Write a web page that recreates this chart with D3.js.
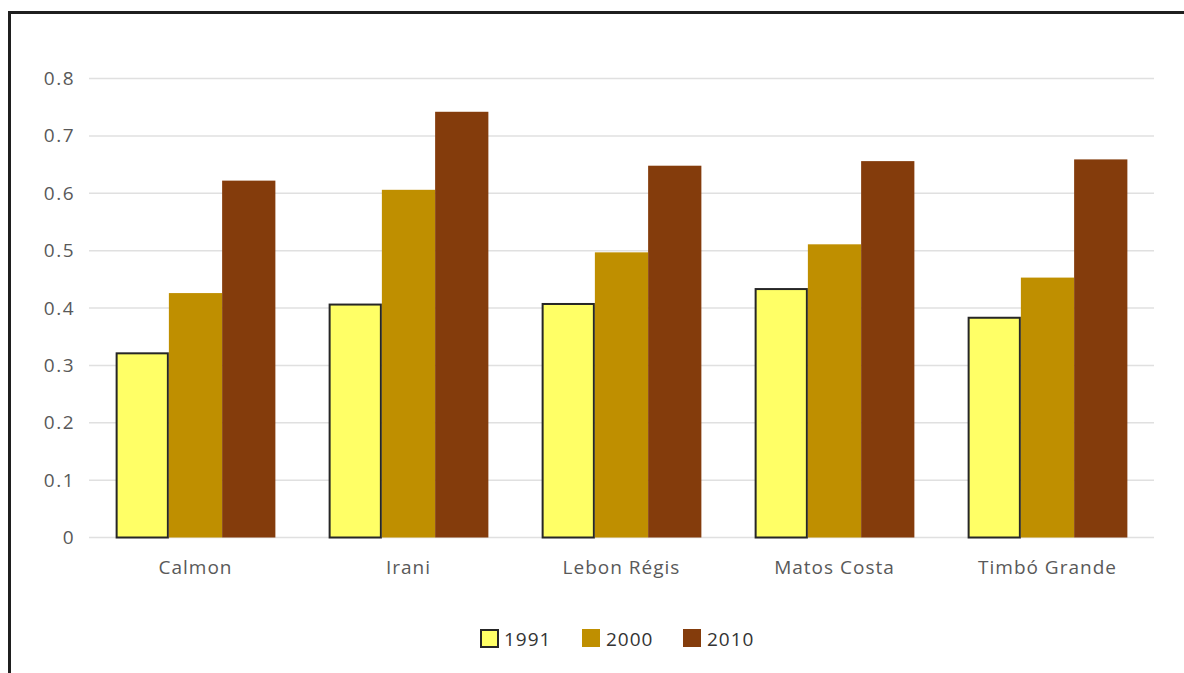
<!DOCTYPE html>
<html>
<head>
<meta charset="utf-8">
<script src="https://cdn.jsdelivr.net/npm/d3@7"></script>
<style>
  html, body { margin: 0; padding: 0; background: #fff; }
  svg { display: block; }
  text { font-family: "Open Sans", "Noto Sans", sans-serif; }
</style>
</head>
<body>
<svg id="chart" width="1184" height="673"></svg>
<script>
// Municipalities and yearly index values
const categories = ["Calmon", "Irani", "Lebon Régis", "Matos Costa", "Timbó Grande"];
const years = ["1991", "2000", "2010"];
const values1991 = [0.321, 0.406, 0.407, 0.433, 0.383];
const values2000 = [0.426, 0.606, 0.497, 0.511, 0.453];
const values2010 = [0.622, 0.742, 0.648, 0.656, 0.659];
const yTicks = [0, 0.1, 0.2, 0.3, 0.4, 0.5, 0.6, 0.7, 0.8];
const yTickLabels = ["0", "0.1", "0.2", "0.3", "0.4", "0.5", "0.6", "0.7", "0.8"];

const seriesValues = [values1991, values2000, values2010];
const colors = { "1991": "#FFFF66", "2000": "#BF8F00", "2010": "#843C0C" };

const svg = d3.select("#chart");
const W = 1184, H = 673;
const plot = { left: 89, right: 1154, top: 78.5, bottom: 537.5 };

// Outer frame (only top and left edges fall inside the canvas)
svg.append("rect")
  .attr("x", 9.5).attr("y", 12.5)
  .attr("width", W + 20).attr("height", H + 20)
  .attr("fill", "#fff").attr("stroke", "#1f1f1f").attr("stroke-width", 3);

const x0 = d3.scaleBand().domain(categories)
  .range([plot.left, plot.right]).paddingInner(0.25).paddingOuter(0.125);
const x1 = d3.scaleBand().domain(years).range([0, x0.bandwidth()]);
const y = d3.scaleLinear().domain([0, 0.8]).range([plot.bottom, plot.top]);

// Horizontal gridlines
svg.append("g").selectAll("line").data(yTicks).join("line")
  .attr("x1", plot.left).attr("x2", plot.right)
  .attr("y1", d => y(d)).attr("y2", d => y(d))
  .attr("stroke", "#e0e0e0").attr("stroke-width", 1.5);

// Y axis labels
const yAxis = d3.axisLeft(y).tickValues(yTicks)
  .tickFormat((d, i) => yTickLabels[i]).tickSize(0).tickPadding(14);
const gy = svg.append("g").attr("transform", `translate(${plot.left},0)`).call(yAxis);
gy.select(".domain").remove();
gy.selectAll("text").attr("font-size", 19).attr("fill", "#595959")
  .style("font-family", "'Open Sans', sans-serif")
  .style("letter-spacing", "1.5px");

// Bars
const rows = categories.map((c, i) => ({ cat: c, vals: years.map((yr, k) => ({ yr, v: seriesValues[k][i] })) }));
const groups = svg.append("g").selectAll("g").data(rows).join("g")
  .attr("transform", d => `translate(${x0(d.cat)},0)`);
groups.selectAll("rect").data(d => d.vals).join("rect")
  .attr("x", d => x1(d.yr) + (d.yr === "1991" ? 1 : 0))
  .attr("y", d => y(d.v))
  .attr("width", d => x1.bandwidth() - (d.yr === "1991" ? 2 : 0))
  .attr("height", d => y(0) - y(d.v))
  .attr("fill", d => colors[d.yr])
  .attr("stroke", d => d.yr === "1991" ? "#262626" : "none")
  .attr("stroke-width", 2);

// X axis labels
const xAxis = d3.axisBottom(x0).tickSize(0).tickPadding(23);
const gx = svg.append("g").attr("transform", `translate(0,${plot.bottom})`).call(xAxis);
gx.select(".domain").remove();
gx.selectAll("text").attr("font-size", 19).attr("fill", "#595959")
  .style("font-family", "'Open Sans', sans-serif")
  .style("letter-spacing", "1px");

// Legend
const legendX = [480, 582, 683];
const legend = svg.append("g").selectAll("g").data(years).join("g")
  .attr("transform", (d, i) => `translate(${legendX[i]},629)`);
legend.append("rect")
  .attr("x", d => d === "1991" ? 1 : 0).attr("y", d => d === "1991" ? 1 : 0)
  .attr("width", d => d === "1991" ? 17 : 18).attr("height", d => d === "1991" ? 17 : 18)
  .attr("fill", d => colors[d])
  .attr("stroke", d => d === "1991" ? "#262626" : "none").attr("stroke-width", 2);
legend.append("text")
  .attr("x", 24).attr("y", 17)
  .attr("font-size", 19).attr("fill", "#333")
  .style("letter-spacing", "1px")
  .text(d => d);
</script>
</body>
</html>
